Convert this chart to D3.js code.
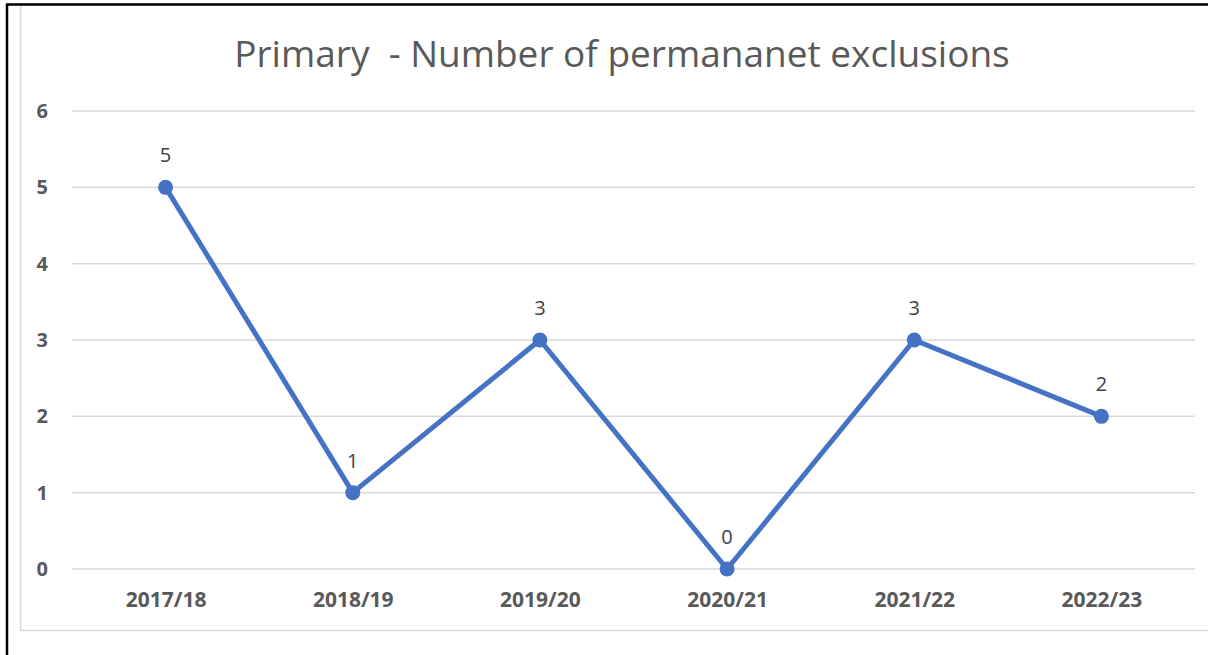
<!DOCTYPE html>
<html>
<head>
<meta charset="utf-8">
<script src="https://d3js.org/d3.v7.min.js"></script>
<style>
  body { margin: 0; background: #fff; }
  svg text { font-family: "Open Sans", "Liberation Sans", sans-serif; }
</style>
</head>
<body>
<div id="chart"></div>
<script>
"use strict"
var anos = ["2017/18", "2018/19", "2019/20", "2020/21", "2021/22", "2022/23"];
var exclusoes = [5, 1, 3, 0, 3, 2];
var ticksY = [0, 1, 2, 3, 4, 5, 6];
var titulo = "Primary  - Number of permananet exclusions";

var larguraSVG = 1208, alturaSVG = 655;
var margin = {top: 111, right: 13, bottom: 86, left: 72},
    larguraVis = larguraSVG - margin.left - margin.right,
    alturaVis = alturaSVG - margin.top - margin.bottom;

var svg = d3.select('#chart')
  .append('svg')
    .attr('width', larguraSVG)
    .attr('height', alturaSVG);

// moldura
svg.append('rect')
  .attr('x', 20.5).attr('y', 4.5)
  .attr('width', 1200).attr('height', 626)
  .attr('fill', 'none').attr('stroke', '#d9d9d9').attr('stroke-width', 1.5);
svg.append('path')
  .attr('d', 'M7,655 V4.5 H1208')
  .attr('fill', 'none').attr('stroke', '#000').attr('stroke-width', 2.5);

var grafico = svg.append('g')
  .attr('transform', 'translate(' + margin.left + ',' + margin.top + ')');

var x = d3.scalePoint()
  .domain(anos)
  .range([0, larguraVis])
  .padding(0.5);

var y = d3.scaleLinear()
  .domain([0, 6])
  .range([alturaVis, 0]);

// grade
grafico.append('g')
  .selectAll('line')
  .data(ticksY)
  .enter()
  .append('line')
    .attr('x1', 0).attr('x2', larguraVis)
    .attr('y1', d => y(d)).attr('y2', d => y(d))
    .attr('stroke', '#d9d9d9').attr('stroke-width', 1.5);

var eixoY = grafico.append('g')
  .call(d3.axisLeft(y).tickValues(ticksY).tickFormat(d3.format('d')).tickSize(0).tickPadding(24));
eixoY.select('.domain').remove();
eixoY.selectAll('text')
  .attr('font-size', 20).attr('font-weight', 'bold').attr('fill', '#595959')
  .style('font-family', '"Open Sans", sans-serif');

var eixoX = grafico.append('g')
  .attr('transform', 'translate(0,' + alturaVis + ')')
  .call(d3.axisBottom(x).tickSize(0).tickPadding(23));
eixoX.select('.domain').remove();
eixoX.selectAll('text')
  .attr('font-size', 21).attr('font-weight', 'bold').attr('fill', '#595959')
  .style('font-family', '"Open Sans", sans-serif');

var linha = d3.line()
  .x((d, i) => x(anos[i]))
  .y(d => y(d));

grafico.append('path')
  .datum(exclusoes)
  .attr('d', linha)
  .attr('fill', 'none')
  .attr('stroke', '#4472c4')
  .attr('stroke-width', 5)
  .attr('stroke-linejoin', 'round');

grafico.selectAll('circle')
  .data(exclusoes)
  .enter()
  .append('circle')
    .attr('cx', (d, i) => x(anos[i]))
    .attr('cy', d => y(d))
    .attr('r', 7.5)
    .attr('fill', '#4472c4');

grafico.selectAll('.rotulo')
  .data(exclusoes)
  .enter()
  .append('text')
    .attr('class', 'rotulo')
    .attr('x', (d, i) => x(anos[i]))
    .attr('y', d => y(d) - 25)
    .attr('text-anchor', 'middle')
    .attr('font-size', 20)
    .attr('fill', '#404040')
    .text(d => d);

svg.append('text')
  .attr('x', 622)
  .attr('y', 67)
  .attr('text-anchor', 'middle')
  .attr('font-size', 37)
  .attr('fill', '#595959')
  .attr('xml:space', 'preserve')
  .style('white-space', 'pre')
  .text(titulo);
</script>
</body>
</html>
